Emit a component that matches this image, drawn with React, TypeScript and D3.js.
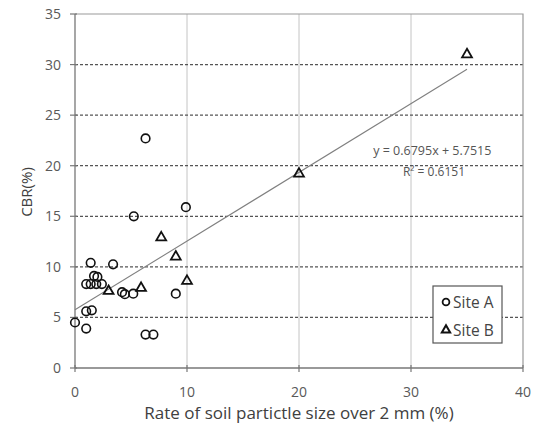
import { useEffect, useRef } from 'react'
import * as d3 from 'd3'

// Site A (circles): [rate of particles > 2 mm (%), CBR (%)]
const siteA: [number, number][] = [
  [0, 4.5], [1.0, 3.9], [1.0, 5.6], [1.5, 5.7],
  [1.0, 8.3], [1.4, 8.3], [1.9, 8.3], [2.4, 8.3],
  [1.7, 9.1], [2.0, 9.0], [1.4, 10.4], [3.4, 10.25],
  [4.2, 7.5], [4.45, 7.3], [5.2, 7.35], [9.0, 7.35],
  [6.3, 3.3], [7.0, 3.3], [5.25, 15.0], [9.9, 15.9], [6.3, 22.7],
]

// Site B (triangles)
const siteB: [number, number][] = [
  [3.0, 7.6], [5.9, 7.9], [7.7, 12.9], [9.0, 11.0], [10.0, 8.6], [20, 19.2], [35, 31.0],
]

// linear trend as printed on the chart
const slope = 0.6795
const intercept = 5.7515
const r2 = 0.6151
const trendRange = [0, 35]

const xTicks = [0, 10, 20, 30, 40]
const yTicks = [0, 5, 10, 15, 20, 25, 30, 35]
const xGrid = [10, 20, 30]
const yGrid = [5, 10, 15, 20, 25, 30]

const legendItems = ['Site A', 'Site B']

const W = 538
const H = 430
const FONT = '"Open Sans", "DejaVu Sans", sans-serif'

export default function App() {
  const svgRef = useRef<SVGSVGElement>(null)

  useEffect(() => {
    if (!svgRef.current) return
    const margin = { top: 14, right: 15, bottom: 62, left: 75 }
    const innerW = W - margin.left - margin.right
    const innerH = H - margin.top - margin.bottom

    const svg = d3.select(svgRef.current)
    svg.selectAll('*').remove()
    svg.attr('width', W).attr('height', H)
    svg.append('rect').attr('width', W).attr('height', H).attr('fill', '#fff')

    const g = svg.append('g').attr('transform', `translate(${margin.left},${margin.top})`)

    const x = d3.scaleLinear().domain([0, 40]).range([0, innerW])
    const y = d3.scaleLinear().domain([0, 35]).range([innerH, 0])

    // vertical grid (solid, light)
    g.selectAll('.vgrid').data(xGrid).enter().append('line')
      .attr('x1', d => x(d)).attr('x2', d => x(d))
      .attr('y1', 0).attr('y2', innerH)
      .attr('stroke', '#c4c4c4').attr('stroke-width', 1)

    // horizontal grid (dashed, dark)
    g.selectAll('.hgrid').data(yGrid).enter().append('line')
      .attr('x1', 0).attr('x2', innerW)
      .attr('y1', d => y(d)).attr('y2', d => y(d))
      .attr('stroke', '#555').attr('stroke-width', 1.2)
      .attr('stroke-dasharray', '3,2')

    // top and right frame
    g.append('path')
      .attr('d', `M0,${y(35)}H${x(40)}V${innerH}`)
      .attr('fill', 'none').attr('stroke', '#999').attr('stroke-width', 1.2)

    // axes
    g.append('line').attr('x1', 0).attr('x2', innerW).attr('y1', innerH).attr('y2', innerH)
      .attr('stroke', '#777').attr('stroke-width', 1.3)
    g.append('line').attr('x1', 0).attr('x2', 0).attr('y1', 0).attr('y2', innerH)
      .attr('stroke', '#777').attr('stroke-width', 1.3)

    // tick marks crossing the axes
    g.selectAll('.xt').data(xTicks).enter().append('line')
      .attr('x1', d => x(d)).attr('x2', d => x(d))
      .attr('y1', innerH - 3).attr('y2', innerH + 4)
      .attr('stroke', '#777').attr('stroke-width', 1.2)
    g.selectAll('.yt').data(yTicks).enter().append('line')
      .attr('x1', -5).attr('x2', 2)
      .attr('y1', d => y(d)).attr('y2', d => y(d))
      .attr('stroke', '#777').attr('stroke-width', 1.2)

    // tick labels
    g.selectAll('.xl').data(xTicks).enter().append('text')
      .attr('x', d => x(d)).attr('y', innerH + 29)
      .attr('text-anchor', 'middle')
      .attr('font-family', FONT).attr('font-size', 14).attr('fill', '#595959')
      .text(d => d)
    g.selectAll('.yl').data(yTicks).enter().append('text')
      .attr('x', -14).attr('y', d => y(d) + 5)
      .attr('text-anchor', 'end')
      .attr('font-family', FONT).attr('font-size', 14).attr('fill', '#595959')
      .text(d => d)

    // axis titles
    svg.append('text')
      .attr('x', margin.left + innerW / 2).attr('y', 419)
      .attr('text-anchor', 'middle')
      .attr('font-family', FONT).attr('font-size', 17).attr('fill', '#404040')
      .text('Rate of soil partictle size over 2 mm (%)')
    svg.append('text')
      .attr('transform', 'translate(32,192) rotate(-90)')
      .attr('text-anchor', 'middle')
      .attr('font-family', FONT).attr('font-size', 15).attr('fill', '#404040')
      .text('CBR(%)')

    // trend line
    g.append('line')
      .attr('x1', x(trendRange[0])).attr('y1', y(slope * trendRange[0] + intercept))
      .attr('x2', x(trendRange[1])).attr('y2', y(slope * trendRange[1] + intercept))
      .attr('stroke', '#808080').attr('stroke-width', 1.1)

    // equation
    g.append('text')
      .attr('x', x(31.9)).attr('y', y(21.05))
      .attr('text-anchor', 'middle')
      .attr('font-family', FONT).attr('font-size', 12.5).attr('fill', '#555')
      .text(`y = ${slope}x + ${intercept}`)
    g.append('text')
      .attr('x', x(32.05)).attr('y', y(19.0))
      .attr('text-anchor', 'middle')
      .attr('font-family', FONT).attr('font-size', 12).attr('fill', '#555')
      .text(`R² = ${r2}`)

    const tri = d3.symbol().type(d3.symbolTriangle).size(42)

    // Site A circles
    g.selectAll('.a').data(siteA).enter().append('circle')
      .attr('cx', d => x(d[0])).attr('cy', d => y(d[1]))
      .attr('r', 4.3)
      .attr('fill', 'none').attr('stroke', '#111').attr('stroke-width', 1.6)

    // Site B triangles
    g.selectAll('.b').data(siteB).enter().append('path')
      .attr('transform', d => `translate(${x(d[0])},${y(d[1])})`)
      .attr('d', tri)
      .attr('fill', 'none').attr('stroke', '#111').attr('stroke-width', 1.8)

    // legend
    const lg = svg.append('g').attr('transform', 'translate(433,286)')
    lg.append('rect').attr('width', 69).attr('height', 57)
      .attr('fill', '#fff').attr('stroke', '#555').attr('stroke-width', 1.2)
    legendItems.forEach((name, i) => {
      const cy = 16 + i * 28
      if (i === 0) {
        lg.append('circle').attr('cx', 13).attr('cy', cy).attr('r', 3.4)
          .attr('fill', 'none').attr('stroke', '#111').attr('stroke-width', 1.8)
      } else {
        lg.append('path').attr('transform', `translate(13,${cy})`)
          .attr('d', d3.symbol().type(d3.symbolTriangle).size(30)())
          .attr('fill', 'none').attr('stroke', '#111').attr('stroke-width', 2)
      }
      lg.append('text').attr('x', 20).attr('y', cy + 5.5)
        .attr('font-family', FONT).attr('font-size', 15.5).attr('fill', '#444')
        .text(name)
    })
  }, [])

  return (
    <div style={{ position: 'absolute', left: 0, top: 0 }}>
      <svg ref={svgRef} style={{ display: 'block' }} />
    </div>
  )
}
